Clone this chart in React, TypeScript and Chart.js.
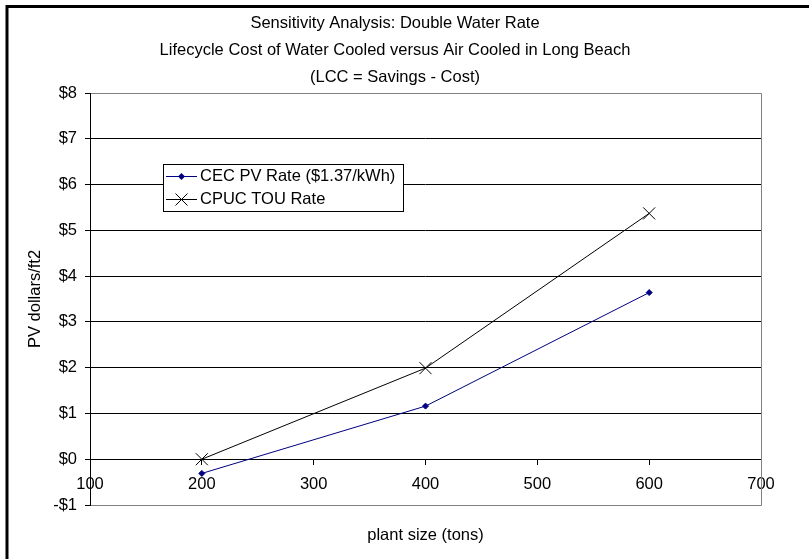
import React, { useEffect, useRef } from 'react';
import { Chart, registerables } from 'chart.js';

Chart.register(...registerables);

// ---- data ----
const plantSizes = [200, 400, 600];
const cecPvRate = [-0.31, 1.16, 3.64];
const cpucTouRate = [0.0, 1.99, 5.37];
const seriesNames = ['CEC PV Rate ($1.37/kWh)', 'CPUC TOU Rate'];
const titleLines = [
  'Sensitivity Analysis: Double Water Rate',
  'Lifecycle Cost of Water Cooled versus Air Cooled in Long Beach',
  '(LCC = Savings - Cost)',
];
const xAxisTitle = 'plant size (tons)';
const yAxisTitle = 'PV dollars/ft2';
const xRange = [100, 700];
const yRange = [-1, 8];

const FONT = '"Liberation Sans", Arial, sans-serif';
const FS = 16.5;

const decorPlugin = {
  id: 'decor',
  beforeDraw(chart: any) {
    const ctx = chart.ctx;
    ctx.save();
    ctx.fillStyle = '#ffffff';
    ctx.fillRect(0, 0, chart.width, chart.height);
    // outer frame (top & left visible)
    ctx.strokeStyle = '#000';
    ctx.lineWidth = 3;
    ctx.beginPath();
    ctx.moveTo(7, chart.height + 5);
    ctx.lineTo(7, 6.5);
    ctx.lineTo(chart.width + 5, 6.5);
    ctx.stroke();
    ctx.restore();
  },
  beforeDatasetsDraw(chart: any) {
    const ctx = chart.ctx;
    const a = chart.chartArea;
    ctx.save();
    ctx.strokeStyle = '#808080';
    ctx.lineWidth = 1;
    ctx.beginPath();
    ctx.moveTo(Math.round(a.left) + 0.5, Math.round(a.top) + 0.5);
    ctx.lineTo(Math.round(a.right) + 0.5, Math.round(a.top) + 0.5);
    ctx.lineTo(Math.round(a.right) + 0.5, Math.round(a.bottom) + 0.5);
    ctx.lineTo(Math.round(a.left) + 0.5, Math.round(a.bottom) + 0.5);
    ctx.stroke();
    // left axis line black
    ctx.strokeStyle = '#000';
    ctx.beginPath();
    ctx.moveTo(Math.round(a.left) + 0.5, Math.round(a.top));
    ctx.lineTo(Math.round(a.left) + 0.5, Math.round(a.bottom) + 1);
    ctx.stroke();
    ctx.restore();
  },
  afterDraw(chart: any) {
    const ctx = chart.ctx;
    const a = chart.chartArea;
    ctx.save();
    ctx.fillStyle = '#000';
    ctx.font = `${FS}px ${FONT}`;
    ctx.textAlign = 'center';
    ctx.textBaseline = 'middle';
    const titleY = [23, 50, 77];
    titleLines.forEach((t, i) => ctx.fillText(t, 395, titleY[i]));
    ctx.fillText(xAxisTitle, (a.left + a.right) / 2, 535);
    ctx.save();
    ctx.translate(35, (a.top + a.bottom) / 2);
    ctx.rotate(-Math.PI / 2);
    ctx.fillText(yAxisTitle, 0, 0);
    ctx.restore();

    // legend
    const lx = 163, ly = 164, lw = 240, lh = 47;
    ctx.fillStyle = '#fff';
    ctx.fillRect(lx, ly, lw, lh);
    ctx.strokeStyle = '#000';
    ctx.lineWidth = 1;
    ctx.strokeRect(lx + 0.5, ly + 0.5, lw, lh);
    const rows = [176, 199];
    chart.data.datasets.forEach((ds: any, i: number) => {
      const y = rows[i] + 0.5;
      ctx.strokeStyle = ds.borderColor;
      ctx.lineWidth = 1;
      ctx.beginPath();
      ctx.moveTo(166, y);
      ctx.lineTo(197, y);
      ctx.stroke();
      const cx = 181.5;
      if (ds.pointStyle === 'rectRot') {
        const r = ds.pointRadius + 0.5;
        ctx.fillStyle = ds.backgroundColor;
        ctx.beginPath();
        ctx.moveTo(cx, y - r);
        ctx.lineTo(cx + r, y);
        ctx.lineTo(cx, y + r);
        ctx.lineTo(cx - r, y);
        ctx.closePath();
        ctx.fill();
      } else {
        const r = ds.pointRadius * Math.SQRT1_2;
        ctx.beginPath();
        ctx.moveTo(cx - r, y - r);
        ctx.lineTo(cx + r, y + r);
        ctx.moveTo(cx + r, y - r);
        ctx.lineTo(cx - r, y + r);
        ctx.stroke();
      }
      ctx.fillStyle = '#000';
      ctx.textAlign = 'left';
      ctx.fillText(ds.label, 200, rows[i]);
    });
    ctx.restore();
  },
};

export default function App() {
  const ref = useRef<HTMLCanvasElement | null>(null);
  useEffect(() => {
    if (!ref.current) return;
    const chart = new Chart(ref.current, {
      type: 'scatter',
      data: {
        datasets: [
          {
            label: seriesNames[0],
            data: plantSizes.map((x, i) => ({ x, y: cecPvRate[i] })),
            showLine: true,
            borderColor: '#000080',
            backgroundColor: '#000080',
            borderWidth: 1,
            pointStyle: 'rectRot',
            pointRadius: 3,
            pointBorderWidth: 1,
          },
          {
            label: seriesNames[1],
            data: plantSizes.map((x, i) => ({ x, y: cpucTouRate[i] })),
            showLine: true,
            borderColor: '#000000',
            backgroundColor: '#000000',
            borderWidth: 1,
            pointStyle: 'crossRot',
            pointRadius: 8.5,
            pointBorderWidth: 1,
          },
        ],
      },
      options: {
        responsive: false,
        animation: false,
        events: [],
        layout: { padding: { top: 93, left: 0, right: 48, bottom: 54 }, autoPadding: false },
        plugins: { legend: { display: false }, title: { display: false }, tooltip: { enabled: false } },
        scales: {
          x: {
            type: 'linear',
            position: { y: 0 },
            min: xRange[0],
            max: xRange[1],
            grid: { drawOnChartArea: false, drawTicks: true, tickLength: 5, color: '#000', lineWidth: 1 },
            border: { display: true, color: '#000', width: 1 },
            ticks: { stepSize: 100, autoSkip: false, maxRotation: 0, padding: 10, color: '#000', font: { family: FONT, size: FS } },
            afterFit: (s: any) => { s.paddingLeft = 0; s.paddingRight = 0; },
          },
          y: {
            type: 'linear',
            position: 'left',
            min: yRange[0],
            max: yRange[1],
            grid: { drawOnChartArea: true, drawTicks: true, tickLength: 5, color: '#000', lineWidth: 1 },
            border: { display: false },
            ticks: {
              stepSize: 1,
              autoSkip: false,
              padding: 8,
              color: '#000',
              font: { family: FONT, size: FS },
              callback: (v: any) => (Number(v) < 0 ? '-$' + Math.abs(Number(v)) : '$' + v),
            },
            afterFit: (s: any) => { s.width = 90; s.paddingTop = 0; s.paddingBottom = 0; },
          },
        },
      } as any,
      plugins: [decorPlugin],
    });
    return () => chart.destroy();
  }, []);
  return (
    <div style={{ position: 'fixed', left: 0, top: 0, width: 809, height: 559, overflow: 'hidden', background: '#fff' }}>
      <canvas ref={ref} width={809} height={559} style={{ width: 809, height: 559, display: 'block' }} />
    </div>
  );
}
